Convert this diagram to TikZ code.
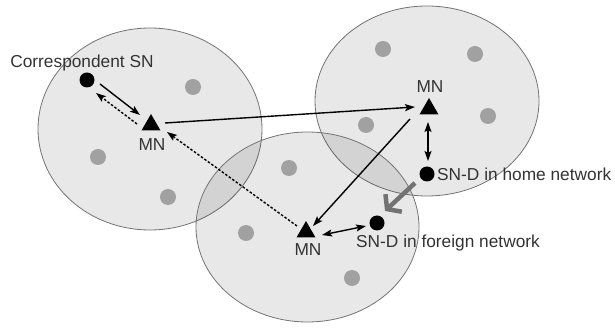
\documentclass[tikz,border=0pt]{standalone}
\usepackage{fontspec}
\setmainfont{Liberation Sans}
\usetikzlibrary{shapes.geometric,arrows.meta}
\begin{document}
\begin{tikzpicture}[x=1pt,y=-1pt,
  net/.style={draw=black!55, line width=0.8pt, fill=black, fill opacity=0.09},
  other/.style={circle, fill=black!37, minimum size=16pt, inner sep=0pt},
  sn/.style={circle, fill=black, minimum size=15pt, inner sep=0pt},
  mn/.style={regular polygon, regular polygon sides=3, fill=black, minimum size=22pt, inner sep=0pt},
  lbl/.style={text=black!80, font=\fontsize{17.3}{20}\selectfont, inner sep=0pt},
  arr/.style={line width=1.4pt, -{Stealth[length=10pt,width=7pt,inset=2pt]}},
  darr/.style={line width=1.4pt, {Stealth[length=10pt,width=7pt,inset=2pt]}-{Stealth[length=10pt,width=7pt,inset=2pt]}},
  dsh/.style={arr, dash pattern=on 2.5pt off 1.8pt},
  move/.style={line width=4.5pt, draw=black!55, -{Straight Barb[length=9pt,width=24pt]}}
]
\useasboundingbox (0,0) rectangle (615,328);
% networks
\path[net] (150,129) ellipse [x radius=112pt, y radius=101pt];
\path[net] (427,101) ellipse [x radius=112pt, y radius=95pt];
\path[net] (307.5,227) ellipse [x radius=111.5pt, y radius=95pt];
% other sensor nodes
\node[other] (g1) at (193,87) {};
\node[other] (g2) at (98,157) {};
\node[other] (g3) at (168,197) {};
\node[other] (g4) at (383,49) {};
\node[other] (g5) at (475,54) {};
\node[other] (g6) at (488,116) {};
\node[other] (g7) at (366,125) {};
\node[other] (g8) at (289,168) {};
\node[other] (g9) at (246,233) {};
\node[other] (g10) at (352,278) {};
% main nodes
\node[sn] (cor) at (87,80) {};
\node[mn] (mn1) at (151,125) {};
\node[mn] (mn2) at (429,109) {};
\node[mn] (mn3) at (306,232) {};
\node[sn] (snh) at (427,174) {};
\node[sn] (snf) at (377,223) {};
% labels
\node[lbl] (tcor) at (82,63) {Correspondent SN};
\node[lbl] (tmn1) at (152,145) {MN};
\node[lbl] (tmn2) at (430,87) {MN};
\node[lbl] (tmn3) at (308,250) {MN};
\node[lbl, anchor=west] (tsnh) at (437,174) {SN-D in home network};
\node[lbl, anchor=west] (tsnf) at (356,243) {SN-D in foreign network};
% connectors
\draw[arr] ([shift={(13,4)}]cor.center) -- ([shift={(-11,-10)}]mn1.center);
\draw[dsh] ([shift={(-14,-1)}]mn1.center) -- ([shift={(9,13)}]cor.center);
\draw[arr] ([shift={(14,-2)}]mn1.center) -- ([shift={(-14,-2)}]mn2.center);
\draw[dsh] ([shift={(-9,-6)}]mn3.center) -- ([shift={(16,7)}]mn1.center);
\draw[arr] ([shift={(-19,10)}]mn2.center) -- ([shift={(7,-6)}]mn3.center);
\draw[darr] ([shift={(-1,13)}]mn2.center) -- ([shift={(1,-13)}]snh.center);
\draw[darr] ([shift={(16,3)}]mn3.center) -- ([shift={(-11,3)}]snf.center);
\draw[move] ([shift={(-12,9)}]snh.center) -- ([shift={(8,-12)}]snf.center);
\end{tikzpicture}
\end{document}
